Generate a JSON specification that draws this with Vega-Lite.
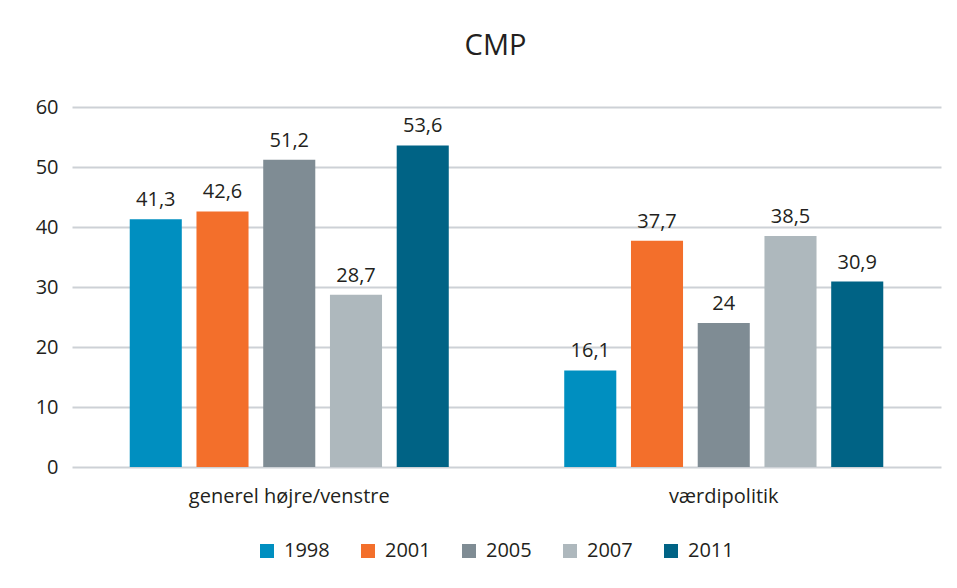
{
  "$schema": "https://vega.github.io/schema/vega-lite/v6.json",
  "width": 869,
  "height": 360,
  "autosize": {"type": "none"},
  "padding": {"left": 72, "top": 107, "right": 16, "bottom": 121},
  "background": "white",
  "config": {
    "font": "Open Sans",
    "view": {"stroke": null},
    "locale": {"number": {"decimal": ",", "thousands": ".", "grouping": [3], "currency": ["", " kr"]}}
  },
  "title": {"text": "CMP", "fontSize": 29, "fontWeight": "normal", "color": "#231f20", "offset": 36, "dx": -11},
  "data": {"values": [
    {"kategori": "generel højre/venstre", "år": "1998", "værdi": 41.3},
    {"kategori": "generel højre/venstre", "år": "2001", "værdi": 42.6},
    {"kategori": "generel højre/venstre", "år": "2005", "værdi": 51.2},
    {"kategori": "generel højre/venstre", "år": "2007", "værdi": 28.7},
    {"kategori": "generel højre/venstre", "år": "2011", "værdi": 53.6},
    {"kategori": "værdipolitik", "år": "1998", "værdi": 16.1},
    {"kategori": "værdipolitik", "år": "2001", "værdi": 37.7},
    {"kategori": "værdipolitik", "år": "2005", "værdi": 24},
    {"kategori": "værdipolitik", "år": "2007", "værdi": 38.5},
    {"kategori": "værdipolitik", "år": "2011", "værdi": 30.9}
  ]},
  "encoding": {
    "x": {"field": "kategori", "type": "nominal", "sort": null,
      "scale": {"paddingInner": 0, "paddingOuter": 0},
      "axis": {"title": null, "labelAngle": 0, "labelFontSize": 20, "labelLimit": 0, "labelColor": "#231f20", "labelPadding": 19, "ticks": false, "domain": false, "grid": false}},
    "xOffset": {"field": "år", "type": "nominal", "scale": {"paddingInner": 0.22, "paddingOuter": 0.865}},
    "y": {"field": "værdi", "type": "quantitative",
      "scale": {"domain": [0, 60]},
      "axis": {"title": null, "values": [0, 10, 20, 30, 40, 50, 60], "labelFontSize": 20, "labelColor": "#231f20", "labelPadding": 14, "ticks": false, "domain": false, "gridColor": "#cdd1d6", "gridWidth": 2}}
  },
  "layer": [
    {
      "mark": {"type": "bar"},
      "encoding": {
        "color": {"field": "år", "type": "nominal",
          "scale": {"domain": ["1998", "2001", "2005", "2007", "2011"], "range": ["#008fc0", "#f36f2b", "#7f8c94", "#aeb8bd", "#006385"]},
          "legend": {"title": null, "orient": "none", "legendX": 185, "legendY": 434, "direction": "horizontal", "symbolType": "square", "symbolSize": 196, "symbolStrokeWidth": 0, "labelFontSize": 20, "labelColor": "#231f20", "columnPadding": 28, "labelOffset": 7, "gridAlign": "all"}}
      }
    },
    {
      "mark": {"type": "text", "dy": -19, "fontSize": 20, "color": "#231f20"},
      "encoding": {"text": {"field": "værdi", "type": "quantitative", "format": ".1~f"}}
    }
  ]
}
